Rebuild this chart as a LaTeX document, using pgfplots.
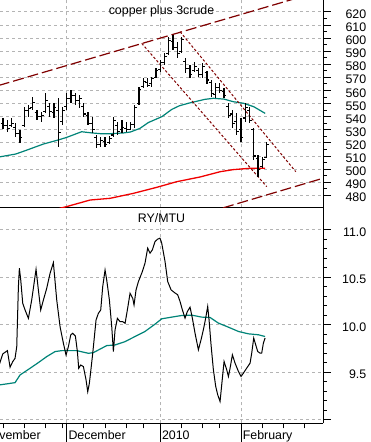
\documentclass[border=0pt]{standalone}
\usepackage{pgfplots}
\pgfplotsset{compat=1.18}
\usepackage{pgfplotstable}
\usepackage{fontspec}
\setmainfont{Liberation Sans}

\definecolor{gridgray}{RGB}{180,180,180}
\definecolor{magreen}{RGB}{0,132,120}
\definecolor{chan}{RGB}{128,0,0}
\definecolor{mared}{RGB}{240,0,0}

\pgfdeclareplotmark{ohlcopen}{\pgfpathmoveto{\pgfqpoint{-2.4pt}{0pt}}\pgfpathlineto{\pgfqpoint{0pt}{0pt}}\pgfusepathqstroke}
\pgfdeclareplotmark{ohlcclose}{\pgfpathmoveto{\pgfqpoint{0pt}{0pt}}\pgfpathlineto{\pgfqpoint{2.4pt}{0pt}}\pgfusepathqstroke}

% OHLC bars, x = trading day (0 = 1 Dec 2009)
\pgfplotstableread{
d   O   H     L     C
-15 535 538.7 530.3 533
-14 533 537.4 528.5 531
-13 533 538.7 532.3 535
-12 532 534.9 524.7 527
-11 527 529.8 520.1 524
-10 533 547.6 532.3 545
-9  545 548.9 540.0 546
-8  547 555.2 545.0 551
-7  543 545.0 537.4 540
-6  540 543.8 536.2 541
-5  544 557.8 542.5 552
-4  548 550.2 540.0 544
-3  543 550.2 538.7 547
-2  545 554.0 517.1 528
-1  536 547.6 533.6 545
0   548 557.8 545.0 554
1   554 560.3 550.2 556
2   556 557.8 548.9 552
3   552 556.5 546.3 554
4   548 550.2 540.0 542
5   541 543.8 533.6 535
6   535 540.0 527.3 530
7   524 526.0 515.8 519
8   519 524.7 517.1 522
9   521 524.7 517.1 519
10  520 525.5 519.0 523
11  526 540.0 524.7 537
12  533 536.2 526.0 529
13  530 537.4 527.3 532
14  531 536.2 528.5 530
15  530 536.2 529.8 534
16  534 548.9 531.1 547
17  550 562.9 548.9 561
18  563 569.2 561.6 567
19  566 569.2 562.9 564
20  565 570.5 562.9 569
21  570 576.9 569.2 575
22  576 583.2 574.3 581
23  581 588.3 579.4 586
24  588 601.0 587.0 598
25  597 602.3 590.8 593
26  593 597.2 584.5 588
27  590 601.0 588.3 599
28  582 584.5 573.1 577
29  577 579.4 569.2 572
30  575 582.0 574.3 578
31  575 576.9 570.5 572
32  572 580.7 569.2 578
33  574 575.0 565.0 568
34  566 568.0 555.2 558
35  557 565.4 554.0 562
36  562 565.4 557.8 560
37  559 561.6 554.0 556
38  548 550.2 538.7 541
39  542 545.0 531.1 535
40  536 542.5 526.0 529
41  530 538.7 520.9 524
42  539 550.2 536.2 547
43  545 547.6 534.9 537
44  530 531.1 506.9 510
45  508 510.7 494.2 500
46  502 509.4 500.5 507
47  509 520.9 508.2 519
}\ohlc

\begin{document}
\begin{tikzpicture}[x=1pt,y=1pt,font=\fontsize{12.4}{14}\selectfont]
\fill[white] (0pt,0pt) rectangle (371pt,442pt);
\pgfplotsset{
  panel/.style={
    scale only axis, width=323pt,
    xmin=-15.7, xmax=60.3,
    axis x line*=bottom, axis y line*=right,
    axis line style={black, line width=0.9pt, -},
    tick align=outside,
    major tick length=8pt, minor tick length=4pt,
    tick style={black, line width=0.8pt},
    xtick={0,22,41}, xticklabels={,,}, xtick style={draw=none},
    xmajorgrids, ymajorgrids,
    grid style={gridgray, dash pattern=on 3pt off 3pt, line width=0.8pt},
    /pgf/number format/assume math mode=true,
    yticklabel style={anchor=east, inner sep=0pt, xshift=35.5pt, yshift=-2.3pt, black},
    every axis title/.style={at={(0.5,1)}, anchor=base, inner sep=0pt},
  }
}
% top panel
\begin{axis}[panel, at={(0pt,234.5pt)}, anchor=south west, height=207.5pt,
  ymin=470.7, ymax=629.0,
  ytick={480,490,...,620}, minor y tick num=1,
  title={copper plus 3crude}, title style={yshift=-14.3pt}]
\addplot[mared, line width=1.3pt] coordinates {
(-4,466) (-1.57,470.1) (0,471.4) (5.5,476.4) (10.2,477.7) (15.7,481.5) (21.2,486.1)
(25.9,490.4) (31.4,494.0) (36.1,498.0) (39.2,499.6) (43.1,500.6) (46.7,500.6)};
\addplot[magreen, line width=1.2pt] coordinates {
(-15.8,509.3) (-12,511.5) (-9.8,514.0) (-5.5,519.1) (-2.0,522.2) (0,524.2) (3.5,528.5)
(5.9,527.6) (8,527.0) (10.2,527.0) (13.4,527.6) (15.0,528.3) (17.25,531.1) (19.2,535.5)
(22.4,540.0) (24.7,545.5) (26.5,548.3) (28.6,550.2) (32.5,553.2) (34.5,554.0) (37.0,553.4)
(39.2,551.4) (41.6,550.2) (44.0,547.6) (46.7,542.5)};
\addplot[chan, line width=1.2pt, dash pattern=on 11pt off 4pt] coordinates {(-16,563.8) (60.3,636.3)};
\addplot[chan, line width=1.2pt, dash pattern=on 11pt off 4pt] coordinates {(30,463.9) (60.3,493.0)};
\addplot[chan, line width=1pt, dash pattern=on 2.5pt off 2pt] coordinates {(17.65,595.9) (47.06,486.6)};
\addplot[chan, line width=1pt, dash pattern=on 2.5pt off 2pt] coordinates {(26.67,604.8) (53.9,498.0)};
\addplot[only marks, mark=ohlcclose, black, line width=1.1pt,
  error bars/.cd, y dir=both, y explicit, error mark=none,
  error bar style={black, solid, line width=1.2pt}]
  table[x=d, y=C, y error plus expr=\thisrow{H}-\thisrow{C}, y error minus expr=\thisrow{C}-\thisrow{L}] {\ohlc};
\addplot[only marks, mark=ohlcopen, black, line width=1.1pt] table[x=d, y=O] {\ohlc};
\end{axis}
% bottom panel
\begin{axis}[panel, at={(0pt,18.7pt)}, anchor=south west, height=215.8pt,
  ymin=8.963, ymax=11.235,
  ytick={9.0,9.5,10.0,10.5,11.0}, yticklabels={,9.5,10.0,10.5,11.0}, minor y tick num=4,
  title={RY/MTU}, title style={yshift=-15.5pt}]
\addplot[magreen, line width=1.2pt] coordinates {
(-15.8,9.367) (-12.16,9.391) (-10.98,9.472) (-8.63,9.542) (-6.67,9.602) (-4.71,9.665)
(-2.75,9.718) (-1.18,9.728) (2.35,9.728) (5.10,9.700) (6.27,9.707) (9.41,9.781)
(11.37,9.788) (13.73,9.823) (15.69,9.868) (18.42,9.930) (20.78,10.007) (22.35,10.063)
(24.71,10.081) (27.06,10.098) (29.41,10.102) (31.76,10.081) (33.73,10.077) (35.69,10.018)
(38.05,9.975) (40.40,9.930) (42.75,9.905) (45.10,9.895) (46.67,9.877)};
\addplot[black, line width=1pt] coordinates {
(-15.8,9.59) (-15.06,9.693) (-14.27,9.718) (-13.96,9.728) (-13.33,9.553) (-12.71,9.612)
(-12.16,9.647) (-11.76,9.770) (-11.37,10.402) (-11.14,10.595) (-10.82,10.472) (-10.35,10.226)
(-9.80,10.156) (-9.02,10.068) (-8.24,10.261) (-7.22,10.584) (-6.67,10.367) (-6.12,10.156)
(-5.49,10.261) (-4.71,10.384) (-3.92,10.542) (-3.14,10.654) (-2.35,10.261) (-1.57,9.981)
(-0.78,9.805) (-0.16,9.682) (0.39,9.770) (0.94,9.893) (1.41,9.911) (2.04,9.882)
(2.51,9.718) (2.82,9.542) (3.29,9.577) (3.92,9.560) (4.55,9.419) (4.94,9.296)
(5.33,9.384) (6.12,9.700) (6.90,10.051) (7.45,10.121) (8.00,10.156) (8.47,10.402)
(9.02,10.577) (9.41,10.472) (10.04,10.261) (10.59,9.981) (10.98,9.718) (11.37,9.946)
(11.92,10.068) (12.55,10.033) (13.18,10.033) (13.73,10.016) (14.27,10.156) (14.90,10.332)
(15.53,10.279) (15.84,10.209) (16.31,10.367) (16.86,10.454) (17.80,10.561) (18.42,10.649)
(19.05,10.807) (19.60,10.754) (20.15,10.789) (20.78,10.877) (21.40,10.902) (21.95,10.912)
(22.35,10.860) (23.13,10.667) (23.76,10.456) (24.55,10.368) (25.33,10.340) (26.11,10.316)
(26.66,10.246) (27.21,10.158) (27.84,10.070) (28.39,10.140) (29.02,10.186) (29.56,10.070)
(30.19,9.912) (30.98,9.737) (31.60,9.842) (32.15,9.947) (32.70,10.070) (33.17,10.193)
(33.49,10.053) (33.96,9.789) (34.51,9.526) (35.06,9.351) (35.53,9.263) (36.08,9.193)
(36.47,9.368) (37.02,9.614) (37.65,9.526) (38.05,9.456) (38.44,9.544) (38.98,9.684)
(39.61,9.596) (40.40,9.509) (41.02,9.456) (41.57,9.491) (42.35,9.544) (43.14,9.596)
(43.53,9.702) (44.00,9.860) (44.47,9.789) (44.94,9.719) (45.49,9.702) (45.88,9.702)
(46.27,9.807) (46.67,9.860)};
\end{axis}
% date axis (weekly and month ticks)
\begin{axis}[scale only axis, at={(-39.525pt,18.7pt)}, anchor=south west,
  width=362.525pt, height=215.8pt,
  xmin=-25, xmax=60.3, ymin=0, ymax=1,
  axis x line*=bottom, axis y line=none,
  axis line style={black, line width=0.9pt, -},
  tick align=outside, major tick length=20pt, minor tick length=5pt,
  tick style={black, line width=0.8pt},
  xtick={-20,0,22,41}, xticklabels={November,December,2010,February},
  minor xtick={-15,-10,-5,-1,4,9,14,18,27,32,36,46,51,56},
  xticklabel style={anchor=north west, inner sep=0pt, xshift=1.6pt, yshift=12.8pt, black}]
\end{axis}
\pgfresetboundingbox
\path (0pt,0pt) rectangle (371pt,442pt);
\end{tikzpicture}
\end{document}
